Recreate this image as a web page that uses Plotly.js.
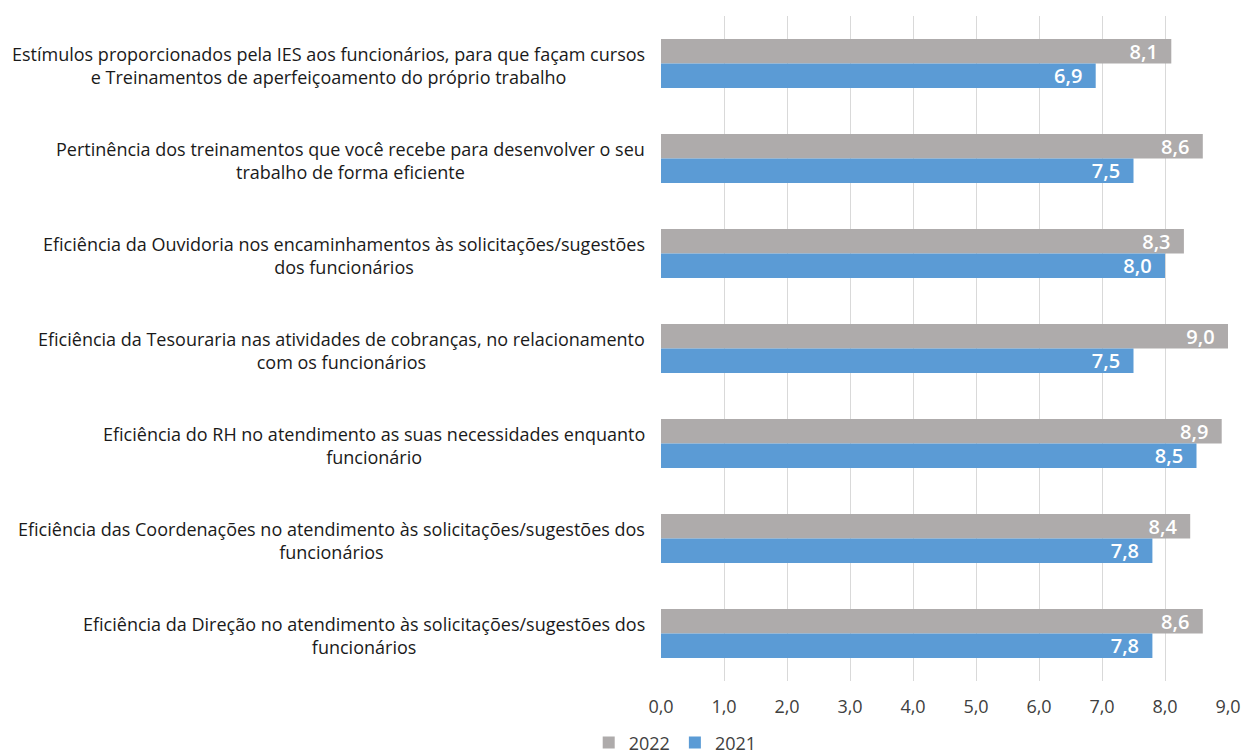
<!DOCTYPE html>
<html>
<head>
<meta charset="utf-8">
<script src="https://cdn.plot.ly/plotly-3.0.1.min.js"></script>
<style>
  html, body { margin: 0; padding: 0; background: #ffffff; }
  #chart { width: 1242px; height: 755px; }
</style>
</head>
<body>
<div id="chart"></div>
<script>
// Survey items (each split into its two printed lines)
const categories = [
  "Estímulos proporcionados pela IES aos funcionários, para que façam cursos<br>e Treinamentos de aperfeiçoamento do próprio trabalho",
  "Pertinência dos treinamentos que você recebe para desenvolver o seu<br>trabalho de forma eficiente",
  "Eficiência da Ouvidoria nos encaminhamentos às solicitações/sugestões<br>dos funcionários",
  "Eficiência da Tesouraria nas atividades de cobranças, no relacionamento<br>com os funcionários",
  "Eficiência do RH no atendimento as suas necessidades enquanto<br>funcionário",
  "Eficiência das Coordenações no atendimento às solicitações/sugestões dos<br>funcionários",
  "Eficiência da Direção no atendimento às solicitações/sugestões dos<br>funcionários"
];

const seriesNames = ["2022", "2021"];
const values2022 = [8.1, 8.6, 8.3, 9.0, 8.9, 8.4, 8.6];
const values2021 = [6.9, 7.5, 8.0, 7.5, 8.5, 7.8, 7.8];
const xTicks = [0, 1, 2, 3, 4, 5, 6, 7, 8, 9];

const textFont = "'Open Sans', 'Noto Sans', sans-serif";

function barTrace(name, values, color) {
  return {
    type: "bar",
    orientation: "h",
    name: name,
    x: values,
    y: categories,
    marker: { color: color },
    texttemplate: "%{x:.1f}\u00a0\u00a0",
    textposition: "inside",
    insidetextanchor: "end",
    constraintext: "none",
    textfont: { family: textFont, size: 20, color: "#ffffff", weight: 600 },
    hoverinfo: "x+y"
  };
}

const data = [
  barTrace(seriesNames[0], values2022, "#AEABAB"),
  barTrace(seriesNames[1], values2021, "#5B9BD5")
];

// Category captions: centred multi-line blocks right-aligned against the axis
const annotations = categories.map(c => ({
  xref: "paper", yref: "y",
  x: 0, y: c,
  xanchor: "right", yanchor: "middle",
  xshift: -14, yshift: -2,
  align: "center",
  showarrow: false,
  text: c,
  font: { family: textFont, size: 18, color: "#1a1a1a" }
}));

const layout = {
  width: 1242,
  height: 755,
  margin: { l: 661, r: 14, t: 16, b: 74 },
  paper_bgcolor: "#ffffff",
  plot_bgcolor: "#ffffff",
  separators: ",.",
  barmode: "group",
  bargap: 0.485,
  bargroupgap: 0,
  showlegend: true,
  legend: {
    orientation: "h",
    xref: "container", yref: "container",
    x: 0.474, y: 0.016,
    xanchor: "left", yanchor: "middle",
    traceorder: "normal",
    bgcolor: "rgba(0,0,0,0)",
    font: { family: textFont, size: 18, color: "#404040" },
    itemwidth: 30
  },
  xaxis: {
    range: [0, 9],
    tickvals: xTicks,
    tickformat: ".1f",
    showgrid: true,
    gridcolor: "#D9D9D9",
    gridwidth: 1,
    zeroline: false,
    showline: false,
    ticks: "",
    ticklabelstandoff: 13,
    tickfont: { family: textFont, size: 18, color: "#404040" },
    fixedrange: true
  },
  yaxis: {
    autorange: "reversed",
    showticklabels: false,
    showgrid: false,
    zeroline: false,
    showline: false,
    ticks: "",
    fixedrange: true
  },
  annotations: annotations
};

Plotly.newPlot("chart", data, layout, { displayModeBar: false, staticPlot: true });
</script>
</body>
</html>
